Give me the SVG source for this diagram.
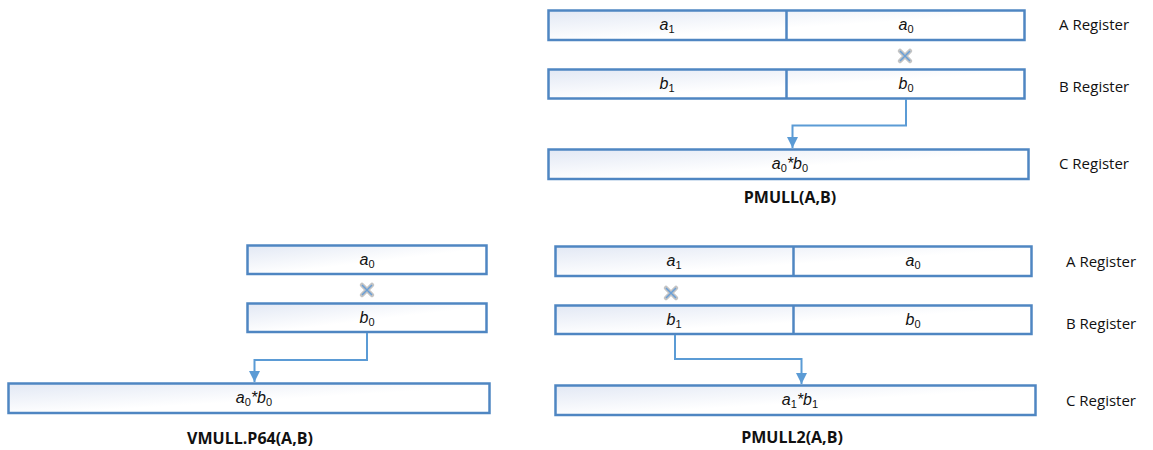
<svg xmlns="http://www.w3.org/2000/svg" width="1153" height="450" viewBox="0 0 1153 450">
  <defs>
    <linearGradient id="regFill" x1="0" y1="0" x2="1" y2="1">
      <stop offset="0" stop-color="#e2e8f4"/>
      <stop offset="0.55" stop-color="#ffffff"/>
      <stop offset="1" stop-color="#ffffff"/>
    </linearGradient>
    <marker id="arrow" viewBox="0 0 10 10" refX="10" refY="5" markerWidth="5.5" markerHeight="5.5" orient="auto" markerUnits="strokeWidth">
      <path d="M0,0 L10,5 L0,10 z" fill="#5b9bd5"/>
    </marker>
    <filter id="soft" x="-50%" y="-50%" width="200%" height="200%">
      <feGaussianBlur stdDeviation="0.6"/>
    </filter>
    <g id="times">
      <path d="M-5,-5 L5,5 M5,-5 L-5,5" stroke="#c4c4c4" stroke-width="4.5" stroke-linecap="round" filter="url(#soft)"/>
      <path d="M-5,-5 L5,5 M5,-5 L-5,5" stroke="#6a9fd6" stroke-width="1.5"/>
    </g>
  </defs>
  <style>
    .reg { fill: url(#regFill); stroke: #4f86c2; stroke-width: 2.5; }
    .div { stroke: #4f86c2; stroke-width: 2.5; }
    .val { font-family: "Liberation Sans", "Open Sans", sans-serif; font-size: 16px; font-style: italic; fill: #111; text-anchor: middle; }
    .sub { font-size: 11px; font-style: normal; }
    .lbl { font-family: "Open Sans", "Liberation Sans", sans-serif; font-size: 15px; fill: #111; }
    .title { font-family: "Open Sans", "Liberation Sans", sans-serif; font-size: 16px; font-weight: bold; fill: #111; text-anchor: middle; }
    .wire { fill: none; stroke: #5b9bd5; stroke-width: 2; marker-end: url(#arrow); }
  </style>

  <!-- PMULL(A,B) -->
  <g id="pmull-a">
    <rect class="reg" x="548.5" y="10.5" width="476" height="29.5"/>
    <line class="div" x1="786.5" y1="10.5" x2="786.5" y2="40"/>
    <text class="val" x="667" y="30">a<tspan class="sub" dy="3">1</tspan></text>
    <text class="val" x="906" y="30">a<tspan class="sub" dy="3">0</tspan></text>
  </g>
  <use href="#times" x="905" y="56"/>
  <g id="pmull-b">
    <rect class="reg" x="548.5" y="69.5" width="476" height="29"/>
    <line class="div" x1="786.5" y1="69.5" x2="786.5" y2="98.5"/>
    <text class="val" x="667" y="89">b<tspan class="sub" dy="3">1</tspan></text>
    <text class="val" x="906" y="89">b<tspan class="sub" dy="3">0</tspan></text>
  </g>
  <g id="pmull-c">
    <rect class="reg" x="548.5" y="149.5" width="480" height="29.5"/>
    <text class="val" x="790" y="169">a<tspan class="sub" dy="3">0</tspan><tspan dy="-3">*</tspan>b<tspan class="sub" dy="3">0</tspan></text>
  </g>
  <text class="title" x="790" y="203">PMULL(A,B)</text>
  <text class="lbl" x="1059" y="30">A Register</text>
  <text class="lbl" x="1059" y="92">B Register</text>
  <text class="lbl" x="1059" y="169">C Register</text>

  <!-- VMULL.P64(A,B) -->
  <g id="vmull-a">
    <rect class="reg" x="247.5" y="245.5" width="239" height="28.5"/>
    <text class="val" x="367" y="265">a<tspan class="sub" dy="3">0</tspan></text>
  </g>
  <use href="#times" x="367" y="290"/>
  <g id="vmull-b">
    <rect class="reg" x="247.5" y="303.5" width="239" height="28.5"/>
    <text class="val" x="367" y="323">b<tspan class="sub" dy="3">0</tspan></text>
  </g>
  <g id="vmull-c">
    <rect class="reg" x="8.5" y="383.5" width="481" height="29.5"/>
    <text class="val" x="254" y="403">a<tspan class="sub" dy="3">0</tspan><tspan dy="-3">*</tspan>b<tspan class="sub" dy="3">0</tspan></text>
  </g>
  <text class="title" x="250" y="444">VMULL.P64(A,B)</text>

  <!-- PMULL2(A,B) -->
  <g id="pmull2-a">
    <rect class="reg" x="555.5" y="246.5" width="476" height="29.5"/>
    <line class="div" x1="793.5" y1="246.5" x2="793.5" y2="276"/>
    <text class="val" x="674" y="266">a<tspan class="sub" dy="3">1</tspan></text>
    <text class="val" x="913" y="266">a<tspan class="sub" dy="3">0</tspan></text>
  </g>
  <use href="#times" x="671" y="293"/>
  <g id="pmull2-b">
    <rect class="reg" x="555.5" y="305.5" width="476" height="28.5"/>
    <line class="div" x1="793.5" y1="305.5" x2="793.5" y2="334"/>
    <text class="val" x="674" y="325">b<tspan class="sub" dy="3">1</tspan></text>
    <text class="val" x="913" y="325">b<tspan class="sub" dy="3">0</tspan></text>
  </g>
  <g id="pmull2-c">
    <rect class="reg" x="555.5" y="385.5" width="480" height="29.5"/>
    <text class="val" x="800" y="405">a<tspan class="sub" dy="3">1</tspan><tspan dy="-3">*</tspan>b<tspan class="sub" dy="3">1</tspan></text>
  </g>
  <text class="title" x="792" y="443">PMULL2(A,B)</text>
  <text class="lbl" x="1066" y="267">A Register</text>
  <text class="lbl" x="1066" y="329">B Register</text>
  <text class="lbl" x="1066" y="406">C Register</text>

  <!-- connectors -->
  <g id="connectors">
    <path class="wire" d="M906,99 V125.5 H792.5 V148"/>
    <path class="wire" d="M367,333 V360 H254.5 V382"/>
    <path class="wire" d="M675,335 V359 H801.5 V384"/>
  </g>
</svg>
